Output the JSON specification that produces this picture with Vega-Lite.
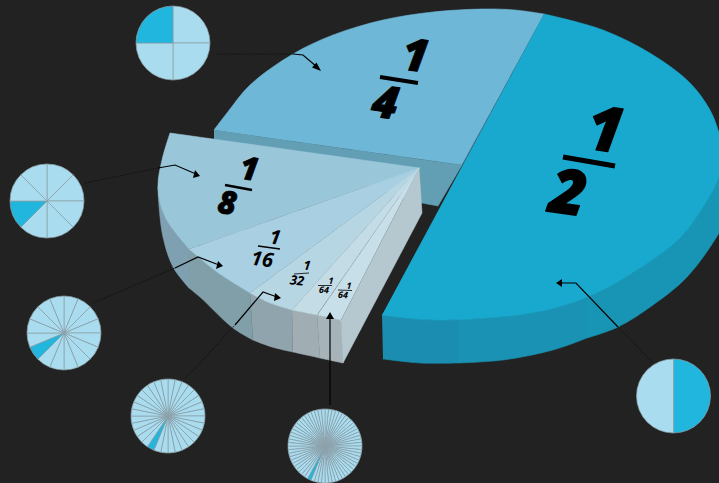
{"$schema":"https://vega.github.io/schema/vega-lite/v6.json","width":719,"height":483,"padding":0,"autosize":{"type":"none"},"background":"#222222","config":{"view":{"stroke":null}},
"resolve":{"scale":{"fill":"independent"}},
"datasets":{
"pieces":[
{"piece":"qw","i":0,"x":214,"y":130},{"piece":"qw","i":0.5,"x":214,"y":130},{"piece":"qw","i":1,"x":462,"y":165},{"piece":"qw","i":1.5,"x":462,"y":165},{"piece":"qw","i":2,"x":438,"y":206},{"piece":"qw","i":2.5,"x":438,"y":206},{"piece":"qw","i":3,"x":422,"y":203},{"piece":"qw","i":3.5,"x":422,"y":203},{"piece":"qw","i":4,"x":214,"y":139},{"piece":"qw","i":4.5,"x":214,"y":139},
{"piece":"qt","i":0,"x":214,"y":130},{"piece":"qt","i":0.5,"x":214,"y":130},{"piece":"qt","i":1,"x":227,"y":113},{"piece":"qt","i":2,"x":250,"y":85},{"piece":"qt","i":3,"x":293,"y":54},{"piece":"qt","i":4,"x":333,"y":35},{"piece":"qt","i":5,"x":383,"y":20},{"piece":"qt","i":6,"x":433,"y":12},{"piece":"qt","i":7,"x":483,"y":9},{"piece":"qt","i":7.5,"x":515,"y":10},{"piece":"qt","i":8,"x":544,"y":14},{"piece":"qt","i":8.5,"x":544,"y":14},{"piece":"qt","i":9,"x":462,"y":165},{"piece":"qt","i":9.5,"x":462,"y":165},
{"piece":"hw1","i":0,"x":382,"y":315},{"piece":"hw1","i":0.5,"x":382,"y":315},{"piece":"hw1","i":1,"x":410,"y":318.5},{"piece":"hw1","i":1.5,"x":437,"y":320},{"piece":"hw1","i":2,"x":458,"y":319.5},{"piece":"hw1","i":2.5,"x":458,"y":319.5},{"piece":"hw1","i":3,"x":458,"y":363},{"piece":"hw1","i":3.5,"x":458,"y":363},{"piece":"hw1","i":4,"x":420,"y":363},{"piece":"hw1","i":5,"x":383,"y":359},{"piece":"hw1","i":5.5,"x":383,"y":359},
{"piece":"hw2","i":0,"x":458,"y":319.5},{"piece":"hw2","i":0.5,"x":458,"y":319.5},{"piece":"hw2","i":1,"x":487,"y":318},{"piece":"hw2","i":2,"x":537,"y":312},{"piece":"hw2","i":3,"x":587,"y":297},{"piece":"hw2","i":3.5,"x":587,"y":297},{"piece":"hw2","i":4,"x":587,"y":338},{"piece":"hw2","i":4.5,"x":587,"y":338},{"piece":"hw2","i":5,"x":553,"y":350},{"piece":"hw2","i":6,"x":503,"y":360},{"piece":"hw2","i":7,"x":458,"y":363},{"piece":"hw2","i":7.5,"x":458,"y":363},
{"piece":"hw3","i":0,"x":587,"y":297},{"piece":"hw3","i":0.5,"x":587,"y":297},{"piece":"hw3","i":1,"x":637,"y":270},{"piece":"hw3","i":2,"x":680,"y":238},{"piece":"hw3","i":3,"x":703,"y":207},{"piece":"hw3","i":4,"x":719,"y":177},{"piece":"hw3","i":4.5,"x":730,"y":150},{"piece":"hw3","i":4.7,"x":730,"y":150},{"piece":"hw3","i":4.8,"x":730,"y":210},{"piece":"hw3","i":4.9,"x":730,"y":210},{"piece":"hw3","i":5,"x":719,"y":233},{"piece":"hw3","i":6,"x":687,"y":277},{"piece":"hw3","i":7,"x":653,"y":305},{"piece":"hw3","i":8,"x":618,"y":327},{"piece":"hw3","i":9,"x":587,"y":338},{"piece":"hw3","i":9.5,"x":587,"y":338},
{"piece":"ht","i":0,"x":544,"y":14},{"piece":"ht","i":0.5,"x":544,"y":14},{"piece":"ht","i":1,"x":603,"y":30},{"piece":"ht","i":2,"x":653,"y":55},{"piece":"ht","i":3,"x":690,"y":83},{"piece":"ht","i":4,"x":710,"y":110},{"piece":"ht","i":5,"x":719,"y":133},{"piece":"ht","i":5.5,"x":724,"y":155},{"piece":"ht","i":6,"x":719,"y":177},{"piece":"ht","i":7,"x":703,"y":207},{"piece":"ht","i":8,"x":680,"y":238},{"piece":"ht","i":9,"x":637,"y":270},{"piece":"ht","i":10,"x":587,"y":297},{"piece":"ht","i":11,"x":537,"y":312},{"piece":"ht","i":12,"x":487,"y":318},{"piece":"ht","i":13,"x":437,"y":320},{"piece":"ht","i":13.5,"x":410,"y":318.5},{"piece":"ht","i":14,"x":382,"y":315},{"piece":"ht","i":14.5,"x":382,"y":315},
{"piece":"w8","i":0,"x":158,"y":187},{"piece":"w8","i":0.5,"x":158,"y":187},{"piece":"w8","i":1,"x":165,"y":217},{"piece":"w8","i":2,"x":189,"y":249},{"piece":"w8","i":2.5,"x":189,"y":249},{"piece":"w8","i":3,"x":189,"y":288},{"piece":"w8","i":3.5,"x":189,"y":288},{"piece":"w8","i":4,"x":173,"y":267},{"piece":"w8","i":5,"x":163,"y":237},{"piece":"w8","i":6,"x":158.5,"y":200},{"piece":"w8","i":6.5,"x":158,"y":187},
{"piece":"w16","i":0,"x":189,"y":249},{"piece":"w16","i":0.5,"x":189,"y":249},{"piece":"w16","i":1,"x":217,"y":272},{"piece":"w16","i":2,"x":250,"y":293},{"piece":"w16","i":2.5,"x":250,"y":293},{"piece":"w16","i":3,"x":253,"y":340},{"piece":"w16","i":3.5,"x":253,"y":340},{"piece":"w16","i":4,"x":233,"y":328},{"piece":"w16","i":5,"x":200,"y":297},{"piece":"w16","i":6,"x":189,"y":288},{"piece":"w16","i":6.5,"x":189,"y":288},
{"piece":"w32","i":0,"x":250,"y":293},{"piece":"w32","i":0.5,"x":250,"y":293},{"piece":"w32","i":1,"x":270,"y":303},{"piece":"w32","i":2,"x":292,"y":310},{"piece":"w32","i":2.5,"x":292,"y":310},{"piece":"w32","i":3,"x":293,"y":352},{"piece":"w32","i":3.5,"x":293,"y":352},{"piece":"w32","i":3.7,"x":272,"y":347},{"piece":"w32","i":4,"x":253,"y":340},{"piece":"w32","i":4.5,"x":253,"y":340},
{"piece":"w64a","i":0,"x":292,"y":310},{"piece":"w64a","i":0.5,"x":292,"y":310},{"piece":"w64a","i":1,"x":317,"y":315},{"piece":"w64a","i":1.5,"x":317,"y":315},{"piece":"w64a","i":2,"x":320,"y":358},{"piece":"w64a","i":2.5,"x":320,"y":358},{"piece":"w64a","i":3,"x":293,"y":352},{"piece":"w64a","i":3.5,"x":293,"y":352},
{"piece":"w64b","i":0,"x":317,"y":315},{"piece":"w64b","i":0.5,"x":317,"y":315},{"piece":"w64b","i":1,"x":341,"y":320},{"piece":"w64b","i":1.5,"x":341,"y":320},{"piece":"w64b","i":2,"x":343,"y":363},{"piece":"w64b","i":2.5,"x":343,"y":363},{"piece":"w64b","i":3,"x":320,"y":358},{"piece":"w64b","i":3.5,"x":320,"y":358},
{"piece":"side","i":0,"x":419,"y":168},{"piece":"side","i":0.5,"x":419,"y":168},{"piece":"side","i":1,"x":422,"y":213},{"piece":"side","i":1.5,"x":422,"y":213},{"piece":"side","i":2,"x":343,"y":363},{"piece":"side","i":2.5,"x":343,"y":363},{"piece":"side","i":3,"x":341,"y":320},{"piece":"side","i":3.5,"x":341,"y":320},
{"piece":"f8","i":0,"x":419,"y":168},{"piece":"f8","i":0.5,"x":419,"y":168},{"piece":"f8","i":1,"x":170,"y":133},{"piece":"f8","i":1.5,"x":170,"y":133},{"piece":"f8","i":2,"x":162,"y":160},{"piece":"f8","i":3,"x":158,"y":187},{"piece":"f8","i":4,"x":165,"y":217},{"piece":"f8","i":5,"x":189,"y":249},{"piece":"f8","i":5.5,"x":189,"y":249},
{"piece":"f16","i":0,"x":419,"y":168},{"piece":"f16","i":0.5,"x":419,"y":168},{"piece":"f16","i":1,"x":189,"y":249},{"piece":"f16","i":1.5,"x":189,"y":249},{"piece":"f16","i":2,"x":217,"y":272},{"piece":"f16","i":3,"x":250,"y":293},{"piece":"f16","i":3.5,"x":250,"y":293},
{"piece":"f32","i":0,"x":419,"y":168},{"piece":"f32","i":0.5,"x":419,"y":168},{"piece":"f32","i":1,"x":250,"y":293},{"piece":"f32","i":1.5,"x":250,"y":293},{"piece":"f32","i":2,"x":270,"y":303},{"piece":"f32","i":3,"x":292,"y":310},{"piece":"f32","i":3.5,"x":292,"y":310},
{"piece":"f64a","i":0,"x":419,"y":168},{"piece":"f64a","i":0.5,"x":419,"y":168},{"piece":"f64a","i":1,"x":292,"y":310},{"piece":"f64a","i":1.5,"x":292,"y":310},{"piece":"f64a","i":2,"x":317,"y":315},{"piece":"f64a","i":2.5,"x":317,"y":315},
{"piece":"f64b","i":0,"x":419,"y":168},{"piece":"f64b","i":0.5,"x":419,"y":168},{"piece":"f64b","i":1,"x":317.5,"y":315},{"piece":"f64b","i":1.5,"x":317.5,"y":315},{"piece":"f64b","i":2,"x":341,"y":320},{"piece":"f64b","i":2.5,"x":341,"y":320}
],
"leadersDark":[
{"l":"a","i":0,"x":217,"y":54},{"l":"a","i":1,"x":293,"y":54},
{"l":"b","i":0,"x":85,"y":183},{"l":"b","i":1,"x":158,"y":168},
{"l":"c","i":0,"x":93,"y":303},{"l":"c","i":1,"x":175,"y":268},
{"l":"d","i":0,"x":186,"y":378},{"l":"d","i":1,"x":235,"y":325},
{"l":"e","i":0,"x":652,"y":362},{"l":"e","i":1,"x":618,"y":327}
],
"leaders":[
{"l":"a","i":0,"x":293,"y":54},{"l":"a","i":1,"x":303,"y":55},{"l":"a","i":2,"x":317,"y":67},
{"l":"b","i":0,"x":158,"y":168},{"l":"b","i":1,"x":175,"y":165},{"l":"b","i":2,"x":196,"y":174},
{"l":"c","i":0,"x":175,"y":268},{"l":"c","i":1,"x":198,"y":257},{"l":"c","i":2,"x":219,"y":265},
{"l":"d","i":0,"x":235,"y":325},{"l":"d","i":1,"x":263,"y":292},{"l":"d","i":2,"x":277,"y":297},
{"l":"e","i":0,"x":618,"y":327},{"l":"e","i":1,"x":576,"y":283},{"l":"e","i":2,"x":560,"y":283},
{"l":"f","i":0,"x":330,"y":405},{"l":"f","i":1,"x":330,"y":316}
],
"arrows":[
{"a":"a","i":0,"x":321,"y":71},{"a":"a","i":1,"x":312,"y":67.5},{"a":"a","i":2,"x":316.5,"y":62.5},
{"a":"b","i":0,"x":200,"y":176},{"a":"b","i":1,"x":193,"y":178},{"a":"b","i":2,"x":195,"y":170},
{"a":"c","i":0,"x":223,"y":266},{"a":"c","i":1,"x":216,"y":269},{"a":"c","i":2,"x":218,"y":261},
{"a":"d","i":0,"x":281,"y":298},{"a":"d","i":1,"x":274,"y":301},{"a":"d","i":2,"x":275,"y":293},
{"a":"e","i":0,"x":330,"y":312},{"a":"e","i":1,"x":326,"y":319},{"a":"e","i":2,"x":334,"y":319},
{"a":"f","i":0,"x":556,"y":283},{"a":"f","i":1,"x":562,"y":279},{"a":"f","i":2,"x":562,"y":287}
],
"bars":[
{"s":"b4","x":563,"y":157,"x2":615,"y2":166},{"s":"b3","x":380,"y":77,"x2":418,"y2":83},{"s":"b2","x":225,"y":185,"x2":252,"y2":190},{"s":"b1","x":258,"y":246,"x2":280,"y2":249},{"s":"b0","x":294,"y":274,"x2":309,"y2":273},{"s":"b0","x":318,"y":285.5,"x2":332,"y2":285.5},{"s":"b0","x":338,"y":290,"x2":352,"y2":290.5}
],
"pies":[
{"cx":673.5,"cy":396,"a":0,"b":180,"h":"on"},{"cx":673.5,"cy":396,"a":180,"b":360,"h":"off"},
{"cx":173,"cy":43,"a":0,"b":90,"h":"off"},{"cx":173,"cy":43,"a":90,"b":180,"h":"off"},{"cx":173,"cy":43,"a":180,"b":270,"h":"off"},{"cx":173,"cy":43,"a":270,"b":360,"h":"on"},
{"cx":47,"cy":201,"a":0,"b":45,"h":"off"},{"cx":47,"cy":201,"a":45,"b":90,"h":"off"},{"cx":47,"cy":201,"a":90,"b":135,"h":"off"},{"cx":47,"cy":201,"a":135,"b":180,"h":"off"},{"cx":47,"cy":201,"a":180,"b":225,"h":"off"},{"cx":47,"cy":201,"a":225,"b":270,"h":"on"},{"cx":47,"cy":201,"a":270,"b":315,"h":"off"},{"cx":47,"cy":201,"a":315,"b":360,"h":"off"},
{"cx":64,"cy":333,"a":0,"b":22.5,"h":"off"},{"cx":64,"cy":333,"a":22.5,"b":45,"h":"off"},{"cx":64,"cy":333,"a":45,"b":67.5,"h":"off"},{"cx":64,"cy":333,"a":67.5,"b":90,"h":"off"},{"cx":64,"cy":333,"a":90,"b":112.5,"h":"off"},{"cx":64,"cy":333,"a":112.5,"b":135,"h":"off"},{"cx":64,"cy":333,"a":135,"b":157.5,"h":"off"},{"cx":64,"cy":333,"a":157.5,"b":180,"h":"off"},{"cx":64,"cy":333,"a":180,"b":202.5,"h":"off"},{"cx":64,"cy":333,"a":202.5,"b":225,"h":"off"},{"cx":64,"cy":333,"a":225,"b":247.5,"h":"on"},{"cx":64,"cy":333,"a":247.5,"b":270,"h":"off"},{"cx":64,"cy":333,"a":270,"b":292.5,"h":"off"},{"cx":64,"cy":333,"a":292.5,"b":315,"h":"off"},{"cx":64,"cy":333,"a":315,"b":337.5,"h":"off"},{"cx":64,"cy":333,"a":337.5,"b":360,"h":"off"},
{"cx":168,"cy":416,"a":0,"b":11.25,"h":"off"},{"cx":168,"cy":416,"a":11.25,"b":22.5,"h":"off"},{"cx":168,"cy":416,"a":22.5,"b":33.75,"h":"off"},{"cx":168,"cy":416,"a":33.75,"b":45,"h":"off"},{"cx":168,"cy":416,"a":45,"b":56.25,"h":"off"},{"cx":168,"cy":416,"a":56.25,"b":67.5,"h":"off"},{"cx":168,"cy":416,"a":67.5,"b":78.75,"h":"off"},{"cx":168,"cy":416,"a":78.75,"b":90,"h":"off"},{"cx":168,"cy":416,"a":90,"b":101.25,"h":"off"},{"cx":168,"cy":416,"a":101.25,"b":112.5,"h":"off"},{"cx":168,"cy":416,"a":112.5,"b":123.75,"h":"off"},{"cx":168,"cy":416,"a":123.75,"b":135,"h":"off"},{"cx":168,"cy":416,"a":135,"b":146.25,"h":"off"},{"cx":168,"cy":416,"a":146.25,"b":157.5,"h":"off"},{"cx":168,"cy":416,"a":157.5,"b":168.75,"h":"off"},{"cx":168,"cy":416,"a":168.75,"b":180,"h":"off"},{"cx":168,"cy":416,"a":180,"b":191.25,"h":"off"},{"cx":168,"cy":416,"a":191.25,"b":202.5,"h":"off"},{"cx":168,"cy":416,"a":202.5,"b":213.75,"h":"on"},{"cx":168,"cy":416,"a":213.75,"b":225,"h":"off"},{"cx":168,"cy":416,"a":225,"b":236.25,"h":"off"},{"cx":168,"cy":416,"a":236.25,"b":247.5,"h":"off"},{"cx":168,"cy":416,"a":247.5,"b":258.75,"h":"off"},{"cx":168,"cy":416,"a":258.75,"b":270,"h":"off"},{"cx":168,"cy":416,"a":270,"b":281.25,"h":"off"},{"cx":168,"cy":416,"a":281.25,"b":292.5,"h":"off"},{"cx":168,"cy":416,"a":292.5,"b":303.75,"h":"off"},{"cx":168,"cy":416,"a":303.75,"b":315,"h":"off"},{"cx":168,"cy":416,"a":315,"b":326.25,"h":"off"},{"cx":168,"cy":416,"a":326.25,"b":337.5,"h":"off"},{"cx":168,"cy":416,"a":337.5,"b":348.75,"h":"off"},{"cx":168,"cy":416,"a":348.75,"b":360,"h":"off"},
{"cx":325,"cy":446,"a":0,"b":5.625,"h":"off"},{"cx":325,"cy":446,"a":5.625,"b":11.25,"h":"off"},{"cx":325,"cy":446,"a":11.25,"b":16.875,"h":"off"},{"cx":325,"cy":446,"a":16.875,"b":22.5,"h":"off"},{"cx":325,"cy":446,"a":22.5,"b":28.125,"h":"off"},{"cx":325,"cy":446,"a":28.125,"b":33.75,"h":"off"},{"cx":325,"cy":446,"a":33.75,"b":39.375,"h":"off"},{"cx":325,"cy":446,"a":39.375,"b":45,"h":"off"},{"cx":325,"cy":446,"a":45,"b":50.625,"h":"off"},{"cx":325,"cy":446,"a":50.625,"b":56.25,"h":"off"},{"cx":325,"cy":446,"a":56.25,"b":61.875,"h":"off"},{"cx":325,"cy":446,"a":61.875,"b":67.5,"h":"off"},{"cx":325,"cy":446,"a":67.5,"b":73.125,"h":"off"},{"cx":325,"cy":446,"a":73.125,"b":78.75,"h":"off"},{"cx":325,"cy":446,"a":78.75,"b":84.375,"h":"off"},{"cx":325,"cy":446,"a":84.375,"b":90,"h":"off"},{"cx":325,"cy":446,"a":90,"b":95.625,"h":"off"},{"cx":325,"cy":446,"a":95.625,"b":101.25,"h":"off"},{"cx":325,"cy":446,"a":101.25,"b":106.875,"h":"off"},{"cx":325,"cy":446,"a":106.875,"b":112.5,"h":"off"},{"cx":325,"cy":446,"a":112.5,"b":118.125,"h":"off"},{"cx":325,"cy":446,"a":118.125,"b":123.75,"h":"off"},{"cx":325,"cy":446,"a":123.75,"b":129.375,"h":"off"},{"cx":325,"cy":446,"a":129.375,"b":135,"h":"off"},{"cx":325,"cy":446,"a":135,"b":140.625,"h":"off"},{"cx":325,"cy":446,"a":140.625,"b":146.25,"h":"off"},{"cx":325,"cy":446,"a":146.25,"b":151.875,"h":"off"},{"cx":325,"cy":446,"a":151.875,"b":157.5,"h":"off"},{"cx":325,"cy":446,"a":157.5,"b":163.125,"h":"off"},{"cx":325,"cy":446,"a":163.125,"b":168.75,"h":"off"},{"cx":325,"cy":446,"a":168.75,"b":174.375,"h":"off"},{"cx":325,"cy":446,"a":174.375,"b":180,"h":"off"},{"cx":325,"cy":446,"a":180,"b":185.625,"h":"off"},{"cx":325,"cy":446,"a":185.625,"b":191.25,"h":"off"},{"cx":325,"cy":446,"a":191.25,"b":196.875,"h":"off"},{"cx":325,"cy":446,"a":196.875,"b":202.5,"h":"off"},{"cx":325,"cy":446,"a":202.5,"b":208.125,"h":"on"},{"cx":325,"cy":446,"a":208.125,"b":213.75,"h":"off"},{"cx":325,"cy":446,"a":213.75,"b":219.375,"h":"off"},{"cx":325,"cy":446,"a":219.375,"b":225,"h":"off"},{"cx":325,"cy":446,"a":225,"b":230.625,"h":"off"},{"cx":325,"cy":446,"a":230.625,"b":236.25,"h":"off"},{"cx":325,"cy":446,"a":236.25,"b":241.875,"h":"off"},{"cx":325,"cy":446,"a":241.875,"b":247.5,"h":"off"},{"cx":325,"cy":446,"a":247.5,"b":253.125,"h":"off"},{"cx":325,"cy":446,"a":253.125,"b":258.75,"h":"off"},{"cx":325,"cy":446,"a":258.75,"b":264.375,"h":"off"},{"cx":325,"cy":446,"a":264.375,"b":270,"h":"off"},{"cx":325,"cy":446,"a":270,"b":275.625,"h":"off"},{"cx":325,"cy":446,"a":275.625,"b":281.25,"h":"off"},{"cx":325,"cy":446,"a":281.25,"b":286.875,"h":"off"},{"cx":325,"cy":446,"a":286.875,"b":292.5,"h":"off"},{"cx":325,"cy":446,"a":292.5,"b":298.125,"h":"off"},{"cx":325,"cy":446,"a":298.125,"b":303.75,"h":"off"},{"cx":325,"cy":446,"a":303.75,"b":309.375,"h":"off"},{"cx":325,"cy":446,"a":309.375,"b":315,"h":"off"},{"cx":325,"cy":446,"a":315,"b":320.625,"h":"off"},{"cx":325,"cy":446,"a":320.625,"b":326.25,"h":"off"},{"cx":325,"cy":446,"a":326.25,"b":331.875,"h":"off"},{"cx":325,"cy":446,"a":331.875,"b":337.5,"h":"off"},{"cx":325,"cy":446,"a":337.5,"b":343.125,"h":"off"},{"cx":325,"cy":446,"a":343.125,"b":348.75,"h":"off"},{"cx":325,"cy":446,"a":348.75,"b":354.375,"h":"off"},{"cx":325,"cy":446,"a":354.375,"b":360,"h":"off"}
]
},
"encoding":{
"x":{"field":"x","type":"quantitative","axis":null,"scale":{"domain":[0,719],"nice":false,"zero":false}},
"y":{"field":"y","type":"quantitative","axis":null,"scale":{"domain":[0,483],"reverse":true,"nice":false,"zero":false}}
},
"layer":[
{"data":{"name":"pieces"},"mark":{"type":"line","filled":true,"interpolate":"catmull-rom","strokeWidth":0.6,"strokeJoin":"round","strokeCap":"round"},"encoding":{"order":{"field":"i","type":"quantitative"},"fill":{"field":"piece","type":"nominal","legend":null,"sort":null,"scale":{"domain":["qw","qt","hw1","hw2","hw3","ht","w8","w16","w32","w64a","w64b","side","f8","f16","f32","f64a","f64b"],"range":["#629fb5","#6fb7d6","#1a8db0","#1a92b3","#1895b5","#19a9cf","#7ea0b0","#809fa9","#90a4ae","#a0adb3","#a6b3b9","#b5c7cf","#9ac6da","#a8d0e2","#b7d6e3","#c4dce6","#c7dfe8"]}},"stroke":{"field":"piece","type":"nominal","legend":null,"sort":null,"scale":{"domain":["qw","qt","hw1","hw2","hw3","ht","w8","w16","w32","w64a","w64b","side","f8","f16","f32","f64a","f64b"],"range":["#629fb5","#6fb7d6","#1a8db0","#1a92b3","#1895b5","#19a9cf","#7ea0b0","#809fa9","#90a4ae","#a0adb3","#a6b3b9","#b5c7cf","#9ac6da","#a8d0e2","#b7d6e3","#c4dce6","#c7dfe8"]}}}},
{"data":{"name":"leadersDark"},"mark":{"type":"line","stroke":"#0e0e0e","strokeWidth":1,"strokeDash":[1.5,1.5]},"encoding":{"detail":{"field":"l"},"order":{"field":"i","type":"quantitative"}}},
{"data":{"name":"leaders"},"mark":{"type":"line","stroke":"#000000","strokeWidth":1.2},"encoding":{"detail":{"field":"l"},"order":{"field":"i","type":"quantitative"}}},
{"data":{"name":"arrows"},"mark":{"type":"line","filled":true,"fill":"#000000","strokeWidth":0},"encoding":{"detail":{"field":"a"},"order":{"field":"i","type":"quantitative"}}},
{"data":{"name":"bars"},"transform":[{"filter":"datum.s=='b4'"}],"mark":{"type":"rule","stroke":"#000000","strokeWidth":5},"encoding":{"x2":{"field":"x2"},"y2":{"field":"y2"}}},
{"data":{"name":"bars"},"transform":[{"filter":"datum.s=='b3'"}],"mark":{"type":"rule","stroke":"#000000","strokeWidth":4},"encoding":{"x2":{"field":"x2"},"y2":{"field":"y2"}}},
{"data":{"name":"bars"},"transform":[{"filter":"datum.s=='b2'"}],"mark":{"type":"rule","stroke":"#000000","strokeWidth":2.6},"encoding":{"x2":{"field":"x2"},"y2":{"field":"y2"}}},
{"data":{"name":"bars"},"transform":[{"filter":"datum.s=='b1'"}],"mark":{"type":"rule","stroke":"#000000","strokeWidth":1.6},"encoding":{"x2":{"field":"x2"},"y2":{"field":"y2"}}},
{"data":{"name":"bars"},"transform":[{"filter":"datum.s=='b0'"}],"mark":{"type":"rule","stroke":"#000000","strokeWidth":0.8},"encoding":{"x2":{"field":"x2"},"y2":{"field":"y2"}}},
{"data":{"values":[{"t":"1","x":605,"y":132},{"t":"2","x":568,"y":195}]},"mark":{"type":"text","font":"Open Sans","fontStyle":"italic","fontWeight":800,"fontSize":62,"angle":8,"baseline":"middle","align":"center","fill":"#000000","stroke":"#000000","strokeWidth":1.4,"strokeJoin":"round"},"encoding":{"text":{"field":"t"}}},
{"data":{"values":[{"t":"1","x":415,"y":57},{"t":"4","x":385,"y":104}]},"mark":{"type":"text","font":"Open Sans","fontStyle":"italic","fontWeight":800,"fontSize":45,"angle":8,"baseline":"middle","align":"center","fill":"#000000","stroke":"#000000","strokeWidth":1,"strokeJoin":"round"},"encoding":{"text":{"field":"t"}}},
{"data":{"values":[{"t":"1","x":249,"y":170},{"t":"8","x":227,"y":204}]},"mark":{"type":"text","font":"Open Sans","fontStyle":"italic","fontWeight":800,"fontSize":32,"angle":8,"baseline":"middle","align":"center","fill":"#000000","stroke":"#000000","strokeWidth":0.7,"strokeJoin":"round"},"encoding":{"text":{"field":"t"}}},
{"data":{"values":[{"t":"1","x":275,"y":238},{"t":"16","x":262,"y":260}]},"mark":{"type":"text","font":"Open Sans","fontStyle":"italic","fontWeight":700,"fontSize":20,"angle":8,"baseline":"middle","align":"center","fill":"#000000"},"encoding":{"text":{"field":"t"}}},
{"data":{"values":[{"t":"1","x":307,"y":266},{"t":"32","x":297,"y":281}]},"mark":{"type":"text","font":"Open Sans","fontStyle":"italic","fontWeight":700,"fontSize":13,"angle":6,"baseline":"middle","align":"center","fill":"#000000"},"encoding":{"text":{"field":"t"}}},
{"data":{"values":[{"t":"1","x":331,"y":281},{"t":"64","x":324,"y":290},{"t":"1","x":349,"y":286},{"t":"64","x":343,"y":295}]},"mark":{"type":"text","font":"Open Sans","fontStyle":"italic","fontWeight":700,"fontSize":9,"angle":4,"baseline":"middle","align":"center","fill":"#000000"},"encoding":{"text":{"field":"t"}}},
{"data":{"name":"pies"},"mark":{"type":"arc","outerRadius":37,"stroke":"#8d9fa7","strokeWidth":0.7},"encoding":{"x":{"field":"cx","type":"quantitative"},"y":{"field":"cy","type":"quantitative"},"theta":{"field":"a","type":"quantitative","scale":{"domain":[0,360],"range":[0,6.2831853]}},"theta2":{"field":"b"},"fill":{"field":"h","type":"nominal","legend":null,"scale":{"domain":["on","off"],"range":["#20b6de","#a9dcef"]}}}}
]
}
